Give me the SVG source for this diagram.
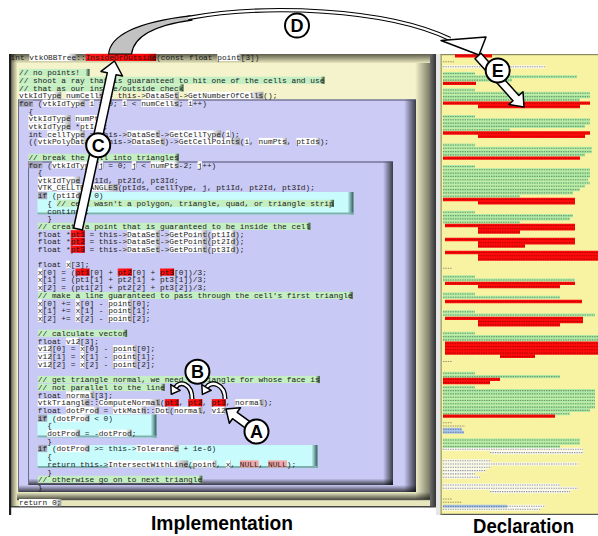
<svg xmlns="http://www.w3.org/2000/svg" width="598" height="536" viewBox="0 0 598 536">
<style>
.c{font-family:"Liberation Mono","DejaVu Sans Mono",monospace;font-size:7.833px;fill:#1c1c1c}
.w{fill:url(#gW)}
.r{fill:url(#gRed)}
.pk{fill:#f2a6a6}
.g{fill:#c4efc2}
.cap{fill:url(#gCap)}
.kw{fill:#a6a6bc}
.fa{fill:#fff;stroke:#000;stroke-width:1.5;stroke-linejoin:round}
.cc{fill:#fff;stroke:#000;stroke-width:2}
.cl{font-family:"Liberation Sans",Arial,sans-serif;font-weight:bold;font-size:18px;text-anchor:middle;fill:#000}
.lab{font-family:"Liberation Sans",Arial,sans-serif;font-weight:bold;font-size:21px;text-anchor:middle;fill:#000}
</style>
<defs>
<linearGradient id="shR" x1="0" y1="0" x2="1" y2="0"><stop offset="0" stop-color="#000" stop-opacity="0"/><stop offset="1" stop-color="#000" stop-opacity="0.72"/></linearGradient>
<linearGradient id="shRl" x1="0" y1="0" x2="1" y2="0"><stop offset="0" stop-color="#000" stop-opacity="0"/><stop offset="1" stop-color="#000" stop-opacity="0.5"/></linearGradient>
<linearGradient id="shB" x1="0" y1="0" x2="0" y2="1"><stop offset="0" stop-color="#000" stop-opacity="0"/><stop offset="1" stop-color="#000" stop-opacity="0.72"/></linearGradient>
<linearGradient id="shT" x1="0" y1="0" x2="0" y2="1"><stop offset="0" stop-color="#000" stop-opacity="0.6"/><stop offset="1" stop-color="#000" stop-opacity="0"/></linearGradient>
<linearGradient id="shL" x1="0" y1="0" x2="1" y2="0"><stop offset="0" stop-color="#000" stop-opacity="0.5"/><stop offset="1" stop-color="#000" stop-opacity="0"/></linearGradient>
<linearGradient id="gW" x1="0" y1="0" x2="1" y2="0"><stop offset="0" stop-color="#fff"/><stop offset="0.82" stop-color="#fff"/><stop offset="1" stop-color="#9c9c9c"/></linearGradient>
<linearGradient id="gRed" x1="0" y1="0" x2="1" y2="0"><stop offset="0" stop-color="#ff1a1a"/><stop offset="0.85" stop-color="#f00"/><stop offset="1" stop-color="#900"/></linearGradient>
<linearGradient id="gCap" x1="0" y1="0" x2="1" y2="0"><stop offset="0" stop-color="#c4efc2"/><stop offset="1" stop-color="#2e462e"/></linearGradient>
<linearGradient id="gCy" x1="0" y1="0" x2="1" y2="0"><stop offset="0" stop-color="#c8fcfc"/><stop offset="1" stop-color="#2c5858"/></linearGradient>
<linearGradient id="gGr" x1="0" y1="0" x2="1" y2="0"><stop offset="0" stop-color="#6e6e6e"/><stop offset="1" stop-color="#333"/></linearGradient>
<path id="decG" fill="none" d="M443 73.5H475M443 76.8H577M443 80.1H512M443 90H475M443 93.3H590M443 96.6H590M443 99.9H580M443 116.5H475M443 119.8H590M443 123.1H590M443 126.4H585M443 129.7H510M443 145H475M443 148.3H592M443 151.6H592M443 154.9H585M443 166.5H475M443 169.8H590M443 173.1H590M443 176.4H590M443 179.7H588M443 183H590M443 186.3H585M443 189.6H580M443 192.9H573M443 196.2H520M443 212.3H475M443 215.6H573M443 218.9H570M443 222.2H520M443 276.7H475M443 280H575M443 294H475M443 297.3H560M443 311.7H475M443 315H595M443 333.3H475M443 336.6H598M443 339.9H598M443 373.3H475M443 376.6H560M443 387.3H475M443 390.6H595M443 393.9H595M443 397.2H595M443 400.5H595M443 403.8H595M443 407.1H595M443 410.4H590M443 413.7H570M443 440H580M443 443.3H580M443 446.6H560"/>
<path id="decR" fill="none" d="M455 55.8H492M443 83.4H476M443 103.2H590M478 106.5H580M443 133H590M478 136.3H585M443 158.2H580M443 199.5H575M478 202.8H575M445 225.5H575M478 228.8H575M478 232.1H520M445 239.5H575M478 242.8H575M478 246.1H525M445 252.5H598M478 255.8H598M478 259.1H598M445 283.3H575M478 286.6H560M445 301.5H582M445 318.3H583M478 321.6H583M478 324.9H560M445 343.2H598M445 346.5H598M445 349.8H598M445 353.1H598M500 356.4H535M443 379.3H500M443 382.6H490M443 416.2H555"/>
<path id="decW" fill="none" d="M443 66.8H545M443 449.3H583M490 452.6H583M443 460.7H490M443 464H578M443 467.3H490M443 470.6H485M443 473.9H475M443 477.2H480M443 485H560M443 488.3H578M490 491.6H570M507 506.2H545M443 509.3H540"/>
<path id="decB" fill="none" d="M443 429.3H462M443 432.3H464M443 506.2H507"/>
<path id="decP" fill="none" d="M443 61.8H455M443 268.3H452M443 361.5H452M443 422.7H452M443 426H465M443 499H452M443 502.3H462"/>
</defs>
<rect width="598" height="536" fill="#fff"/>

<g id="implementation">
<rect x="9" y="54" width="427" height="453" fill="#e8e6bc"/>
<rect x="17" y="63" width="413" height="437" fill="#f4f3cc"/>
<rect x="9" y="54" width="421" height="9" fill="url(#shT)"/>
<rect x="11" y="54" width="6" height="453" fill="url(#shL)"/>
<rect x="415" y="63" width="15" height="437" fill="url(#shRl)"/>
<rect x="17" y="492" width="413" height="8" fill="url(#shB)"/>
<rect x="17" y="499.3" width="413" height="0.9" fill="#555"/>
<rect x="430" y="54" width="6" height="453" fill="url(#gGr)"/>
<rect x="9" y="506" width="427" height="1.5" fill="#444"/>
<rect x="9" y="54" width="2.2" height="461" fill="#1e1e1e"/>

<g id="loop-i">
<rect x="18" y="99.5" width="398" height="392.5" fill="#cbcbf6"/>
<rect x="404" y="99.5" width="12" height="392.5" fill="url(#shR)"/>
<rect x="18" y="485" width="398" height="7" fill="url(#shB)"/>
<rect x="18" y="99.5" width="398" height="1" fill="#4c4c6c"/>
<rect x="18" y="99.5" width="1" height="392.5" fill="#6c6c8c"/>
</g>
<g id="loop-j">
<rect x="28" y="161.5" width="365" height="323.5" fill="#c9c9f5"/>
<rect x="383" y="161.5" width="10" height="323.5" fill="url(#shR)"/>
<rect x="28" y="478.5" width="365" height="6.5" fill="url(#shB)"/>
<rect x="28" y="161.5" width="365" height="1" fill="#4c4c6c"/>
<rect x="28" y="161.5" width="1" height="323.5" fill="#6c6c8c"/>
</g>
<g id="if-blocks">
<rect x="37.5" y="192" width="316" height="22.5" fill="#c8fcfc"/>
<rect x="347.5" y="192" width="6" height="22.5" fill="url(#gCy)"/>
<rect x="37.5" y="212.5" width="316" height="2" fill="#7fb0b0"/>
<rect x="37.5" y="414.5" width="119" height="23" fill="#c8fcfc"/>
<rect x="150.5" y="414.5" width="6" height="23" fill="url(#gCy)"/>
<rect x="37.5" y="435.5" width="119" height="2" fill="#7fb0b0"/>
<rect x="37.5" y="445" width="280" height="23" fill="#c8fcfc"/>
<rect x="311.5" y="445" width="6" height="23" fill="url(#gCy)"/>
<rect x="37.5" y="466" width="280" height="2" fill="#7fb0b0"/>
</g>

<g id="comments">
<rect class="g" x="19" y="68.9" width="70.5" height="7.2"/><rect class="cap" x="85.5" y="68.9" width="4" height="7.2"/>
<rect class="g" x="19" y="76.7" width="305.5" height="7.2"/><rect class="cap" x="320.5" y="76.7" width="4" height="7.2"/>
<rect class="g" x="19" y="84.3" width="164.5" height="7.2"/><rect class="cap" x="179.5" y="84.3" width="4" height="7.2"/>
<rect class="g" x="28.4" y="153.7" width="150.4" height="7.2"/><rect class="cap" x="174.8" y="153.7" width="4" height="7.2"/>
<rect class="g" x="56.6" y="199.8" width="277.3" height="7.2"/><rect class="cap" x="329.9" y="199.8" width="4" height="7.2"/>
<rect class="g" x="37.8" y="222.7" width="272.6" height="7.2"/><rect class="cap" x="306.4" y="222.7" width="4" height="7.2"/>
<rect class="g" x="37.8" y="291.8" width="314.9" height="7.2"/><rect class="cap" x="348.7" y="291.8" width="4" height="7.2"/>
<rect class="g" x="37.8" y="329.7" width="89.3" height="7.2"/><rect class="cap" x="123.1" y="329.7" width="4" height="7.2"/>
<rect class="g" x="37.8" y="375.9" width="282" height="7.2"/><rect class="cap" x="315.8" y="375.9" width="4" height="7.2"/>
<rect class="g" x="37.8" y="383.8" width="126.9" height="7.2"/><rect class="cap" x="160.7" y="383.8" width="4" height="7.2"/>
<rect class="g" x="37.8" y="475.7" width="164.5" height="7.2"/><rect class="cap" x="198.3" y="475.7" width="4" height="7.2"/>
</g>

<g id="keywords">
<rect class="kw" x="19" y="99.6" width="14.1" height="7.2"/>
<rect class="kw" x="28.4" y="161.2" width="14.1" height="7.2"/>
<rect class="kw" x="37.8" y="192" width="9.4" height="7.2"/>
<rect class="kw" x="37.8" y="414.5" width="9.4" height="7.2"/>
<rect class="kw" x="37.8" y="444.9" width="9.4" height="7.2"/>
</g>

<g id="identifiers">
<rect class="w" x="29.3" y="53.8" width="47" height="7.2"/>
<rect class="w" x="217.3" y="53.8" width="23.5" height="7.2"/>
<rect class="w" x="19" y="91.8" width="42.3" height="7.2"/><rect class="w" x="66" y="91.8" width="37.6" height="7.2"/><rect class="w" x="145.9" y="91.8" width="32.9" height="7.2"/><rect class="w" x="188.2" y="91.8" width="75.2" height="7.2"/>
<rect class="w" x="42.5" y="99.6" width="42.3" height="7.2"/><rect class="w" x="89.5" y="99.6" width="4.7" height="7.2"/><rect class="w" x="122.4" y="99.6" width="4.7" height="7.2"/><rect class="w" x="141.2" y="99.6" width="37.6" height="7.2"/><rect class="w" x="188.2" y="99.6" width="4.7" height="7.2"/>
<rect class="w" x="28.4" y="115" width="42.3" height="7.2"/><rect class="w" x="75.4" y="115" width="28.2" height="7.2"/>
<rect class="w" x="28.4" y="122.6" width="42.3" height="7.2"/><rect class="w" x="80.1" y="122.6" width="23.5" height="7.2"/>
<rect class="w" x="47.2" y="130.4" width="37.6" height="7.2"/><rect class="w" x="127.1" y="130.4" width="32.9" height="7.2"/><rect class="w" x="169.4" y="130.4" width="51.7" height="7.2"/><rect class="w" x="225.8" y="130.4" width="4.7" height="7.2"/>
<rect class="w" x="37.8" y="137.9" width="51.7" height="7.2"/><rect class="w" x="131.8" y="137.9" width="32.9" height="7.2"/><rect class="w" x="178.8" y="137.9" width="61.1" height="7.2"/><rect class="w" x="244.6" y="137.9" width="4.7" height="7.2"/><rect class="w" x="258.7" y="137.9" width="28.2" height="7.2"/><rect class="w" x="296.3" y="137.9" width="23.5" height="7.2"/>
<rect class="w" x="51.9" y="161.2" width="42.3" height="7.2"/><rect class="w" x="98.9" y="161.2" width="4.7" height="7.2"/><rect class="w" x="131.8" y="161.2" width="4.7" height="7.2"/><rect class="w" x="150.6" y="161.2" width="28.2" height="7.2"/><rect class="w" x="197.6" y="161.2" width="4.7" height="7.2"/>
<rect class="w" x="37.8" y="176.6" width="42.3" height="7.2"/>
<rect class="w" x="37.8" y="184.1" width="79.9" height="7.2"/>
<rect class="w" x="56.6" y="192" width="23.5" height="7.2"/>
<rect class="w" x="127.1" y="230.2" width="32.9" height="7.2"/><rect class="w" x="169.4" y="230.2" width="37.6" height="7.2"/><rect class="w" x="211.7" y="230.2" width="23.5" height="7.2"/>
<rect class="w" x="127.1" y="237.8" width="32.9" height="7.2"/><rect class="w" x="169.4" y="237.8" width="37.6" height="7.2"/><rect class="w" x="211.7" y="237.8" width="23.5" height="7.2"/>
<rect class="w" x="127.1" y="245.6" width="32.9" height="7.2"/><rect class="w" x="169.4" y="245.6" width="37.6" height="7.2"/><rect class="w" x="211.7" y="245.6" width="23.5" height="7.2"/>
<rect class="w" x="66" y="260.7" width="4.7" height="7.2"/>
<rect class="w" x="37.8" y="268.5" width="4.7" height="7.2"/>
<rect class="w" x="37.8" y="276.1" width="4.7" height="7.2"/>
<rect class="w" x="37.8" y="283.9" width="4.7" height="7.2"/>
<rect class="w" x="37.8" y="299.3" width="4.7" height="7.2"/><rect class="w" x="75.4" y="299.3" width="4.7" height="7.2"/><rect class="w" x="108.3" y="299.3" width="23.5" height="7.2"/>
<rect class="w" x="37.8" y="306.8" width="4.7" height="7.2"/><rect class="w" x="75.4" y="306.8" width="4.7" height="7.2"/><rect class="w" x="108.3" y="306.8" width="23.5" height="7.2"/>
<rect class="w" x="37.8" y="314.7" width="4.7" height="7.2"/><rect class="w" x="75.4" y="314.7" width="4.7" height="7.2"/><rect class="w" x="108.3" y="314.7" width="23.5" height="7.2"/>
<rect class="w" x="66" y="337.6" width="14.1" height="7.2"/>
<rect class="w" x="37.8" y="345.1" width="14.1" height="7.2"/><rect class="w" x="80.1" y="345.1" width="4.7" height="7.2"/><rect class="w" x="113" y="345.1" width="23.5" height="7.2"/>
<rect class="w" x="37.8" y="353" width="14.1" height="7.2"/><rect class="w" x="80.1" y="353" width="4.7" height="7.2"/><rect class="w" x="113" y="353" width="23.5" height="7.2"/>
<rect class="w" x="37.8" y="360.8" width="14.1" height="7.2"/><rect class="w" x="80.1" y="360.8" width="4.7" height="7.2"/><rect class="w" x="113" y="360.8" width="23.5" height="7.2"/>
<rect class="w" x="66" y="391.3" width="28.2" height="7.2"/>
<rect class="w" x="37.8" y="399.1" width="51.7" height="7.2"/><rect class="w" x="98.9" y="399.1" width="61.1" height="7.2"/><rect class="w" x="235.2" y="399.1" width="28.2" height="7.2"/>
<rect class="w" x="66" y="406.7" width="32.9" height="7.2"/><rect class="w" x="113" y="406.7" width="32.9" height="7.2"/><rect class="w" x="155.3" y="406.7" width="14.1" height="7.2"/><rect class="w" x="174.1" y="406.7" width="28.2" height="7.2"/><rect class="w" x="211.7" y="406.7" width="14.1" height="7.2"/>
<rect class="w" x="56.6" y="414.5" width="32.9" height="7.2"/>
<rect class="w" x="47.2" y="429.6" width="32.9" height="7.2"/><rect class="w" x="98.9" y="429.6" width="32.9" height="7.2"/>
<rect class="w" x="56.6" y="444.9" width="32.9" height="7.2"/><rect class="w" x="136.5" y="444.9" width="42.3" height="7.2"/>
<rect class="w" x="108.3" y="460.4" width="79.9" height="7.2"/><rect class="w" x="192.9" y="460.4" width="23.5" height="7.2"/><rect class="w" x="225.8" y="460.4" width="4.7" height="7.2"/>
<rect class="w" x="19" y="499" width="42.3" height="7.2"/>
</g>

<g id="references">
<rect class="r" x="85.7" y="53.8" width="70.5" height="7.2"/>
<rect class="r" x="70.7" y="230.2" width="14.1" height="7.2"/>
<rect class="r" x="70.7" y="237.8" width="14.1" height="7.2"/>
<rect class="r" x="70.7" y="245.6" width="14.1" height="7.2"/>
<rect class="r" x="75.4" y="268.5" width="14.1" height="7.2"/>
<rect class="r" x="117.7" y="268.5" width="14.1" height="7.2"/>
<rect class="r" x="160" y="268.5" width="14.1" height="7.2"/>
<rect class="r" x="164.7" y="399.1" width="14.1" height="7.2"/>
<rect class="r" x="188.2" y="399.1" width="14.1" height="7.2"/>
<rect class="r" x="211.7" y="399.1" width="14.1" height="7.2"/>
<rect class="pk" x="239.9" y="460.4" width="18.8" height="7.2"/>
<rect class="pk" x="268.1" y="460.4" width="18.8" height="7.2"/>
</g>

<g id="code" class="c">
<text x="10.5" y="60.1">int vtkOBBTree::InsideOrOutside(const float point[3])</text>
<text x="19" y="75.2">// no points!</text>
<text x="19" y="83">// shoot a ray that is guaranteed to hit one of the cells and use</text>
<text x="19" y="90.6">// that as our inside/outside check</text>
<text x="19" y="98.1">vtkIdType numCells = this-&gt;DataSet-&gt;GetNumberOfCells();</text>
<text x="19" y="105.9">for (vtkIdType i = 0; i &lt; numCells; i++)</text>
<text x="28.4" y="113.7">{</text>
<text x="28.4" y="121.3">vtkIdType numPts;</text>
<text x="28.4" y="128.9">vtkIdType *ptIds;</text>
<text x="28.4" y="136.7">int cellType = this-&gt;DataSet-&gt;GetCellType(i);</text>
<text x="28.4" y="144.2">((vtkPolyData *)this-&gt;DataSet)-&gt;GetCellPoints(i, numPts, ptIds);</text>
<text x="28.4" y="160">// break the cell into triangles</text>
<text x="28.4" y="167.5">for (vtkIdType j = 0; j &lt; numPts-2; j++)</text>
<text x="37.8" y="175">{</text>
<text x="37.8" y="182.9">vtkIdType pt1Id, pt2Id, pt3Id;</text>
<text x="37.8" y="190.4">VTK_CELLTRIANGLES(ptIds, cellType, j, pt1Id, pt2Id, pt3Id);</text>
<text x="37.8" y="198.3">if (pt1Id &lt; 0)</text>
<text x="47.2" y="206.1">{ // cell wasn't a polygon, triangle, quad, or triangle strip</text>
<text x="47.2" y="213.7">continue;</text>
<text x="47.2" y="221.2">}</text>
<text x="37.8" y="229">// create a point that is guaranteed to be inside the cell</text>
<text x="37.8" y="236.5">float *pt1 = this-&gt;DataSet-&gt;GetPoint(pt1Id);</text>
<text x="37.8" y="244.1">float *pt2 = this-&gt;DataSet-&gt;GetPoint(pt2Id);</text>
<text x="37.8" y="251.9">float *pt3 = this-&gt;DataSet-&gt;GetPoint(pt3Id);</text>
<text x="37.8" y="267">float x[3];</text>
<text x="37.8" y="274.8">x[0] = (pt1[0] + pt2[0] + pt3[0])/3;</text>
<text x="37.8" y="282.4">x[1] = (pt1[1] + pt2[1] + pt3[1])/3;</text>
<text x="37.8" y="290.2">x[2] = (pt1[2] + pt2[2] + pt3[2])/3;</text>
<text x="37.8" y="298.1">// make a line guaranteed to pass through the cell's first triangle</text>
<text x="37.8" y="305.6">x[0] += x[0] - point[0];</text>
<text x="37.8" y="313.1">x[1] += x[1] - point[1];</text>
<text x="37.8" y="321">x[2] += x[2] - point[2];</text>
<text x="37.8" y="336">// calculate vector</text>
<text x="37.8" y="343.9">float v12[3];</text>
<text x="37.8" y="351.4">v12[0] = x[0] - point[0];</text>
<text x="37.8" y="359.3">v12[1] = x[1] - point[1];</text>
<text x="37.8" y="367.1">v12[2] = x[2] - point[2];</text>
<text x="37.8" y="382.2">// get triangle normal, we need a triangle for whose face is</text>
<text x="37.8" y="390.1">// not parallel to the line</text>
<text x="37.8" y="397.6">float normal[3];</text>
<text x="37.8" y="405.4">vtkTriangle::ComputeNormal(pt1, pt2, pt3, normal);</text>
<text x="37.8" y="413">float dotProd = vtkMath::Dot(normal, v12);</text>
<text x="37.8" y="420.8">if (dotProd &lt; 0)</text>
<text x="47.2" y="428.3">{</text>
<text x="47.2" y="435.9">dotProd = -dotProd;</text>
<text x="47.2" y="443.7">}</text>
<text x="37.8" y="451.2">if (dotProd &gt;= this-&gt;Tolerance + 1e-6)</text>
<text x="47.2" y="459.1">{</text>
<text x="47.2" y="466.7">return this-&gt;IntersectWithLine(point, x, NULL, NULL);</text>
<text x="47.2" y="474.5">}</text>
<text x="37.8" y="482">// otherwise go on to next triangle</text>
<text x="37.8" y="489.9">}</text>
<text x="19" y="505.3">return 0;</text>
</g>
</g>

<g id="declaration">
<rect x="436" y="54" width="4.5" height="461" fill="#e6e6e6"/>
<rect x="440.5" y="54" width="158" height="461" fill="#f7f3a2"/>
<rect x="440.5" y="54" width="158" height="1.2" fill="#8a8a60"/>
<rect x="440.5" y="513.8" width="158" height="1.2" fill="#555"/>
<rect x="440.5" y="54" width="1.2" height="461" fill="#8f8f66"/>
<use href="#decG" stroke="#aeeaa6" stroke-width="3.1"/>
<use href="#decR" stroke="#ff0a0a" stroke-width="3.3"/>
<use href="#decW" stroke="#fbfbf4" stroke-width="3.1"/>
<use href="#decB" stroke="#a9c6ee" stroke-width="3.1"/>
<g stroke-width="1.1" stroke-dasharray="1.4 1" fill="none">
<use href="#decG" stroke="#1e3a1e" stroke-opacity="0.45"/>
<use href="#decR" stroke="#4a0000" stroke-opacity="0.45"/>
<use href="#decW" stroke="#333" stroke-opacity="0.5"/>
<use href="#decB" stroke="#223" stroke-opacity="0.5"/>
<use href="#decP" stroke="#333" stroke-opacity="0.5"/>
</g>
</g>

<g id="connectors">
<path d="M108.7 54 C110 36 136 22 190 15.8 L192 20.2 C160 24.5 134 34 131.6 54 Z" fill="#c2c2c2" stroke="#000" stroke-width="1.2" stroke-linejoin="round"/>
<path d="M188 18 C265 4 385 8 450 39" fill="none" stroke="#000" stroke-width="4.4"/>
<path d="M188 18 C265 4 385 8 450 39" fill="none" stroke="#fff" stroke-width="2.2"/>
<polygon class="fa" points="441,40.5 486,37 479,55"/>
<polygon class="fa" points="481,53.3 518.9,95.4 523,91.7 524,107 508.9,104.5 513,100.8 475,58.7"/>
<polygon class="fa" points="73.6,228 107.3,72.7 101,71.4 114.5,61 122.5,76 116.1,74.7 82.4,230"/>
<polygon class="fa" points="258.4,427.8 237.2,412.3 240.5,407.8 226,409 229.3,423.2 232.5,418.7 253.6,434.2"/>
<path d="M192 399 C192 384 180 380 175.5 387.5" fill="none" stroke="#000" stroke-width="5"/>
<path d="M192 399 C192 384 180 380 175.5 387.5" fill="none" stroke="#fff" stroke-width="2.4"/>
<polygon class="fa" points="180.2,390.4 171.3,394.3 170.8,384.6"/>
<path d="M225 399 C225 384 211 380 206.5 387.5" fill="none" stroke="#000" stroke-width="5"/>
<path d="M225 399 C225 384 211 380 206.5 387.5" fill="none" stroke="#fff" stroke-width="2.4"/>
<polygon class="fa" points="211.2,390.3 202.4,394.4 201.8,384.7"/>
</g>

<g id="callout-A"><circle class="cc" cx="256.5" cy="431.5" r="12"/><text class="cl" x="256.5" y="437.9">A</text></g>
<g id="callout-B"><circle class="cc" cx="197.4" cy="371.8" r="12"/><text class="cl" x="197.4" y="378.2">B</text></g>
<g id="callout-C"><circle class="cc" cx="98.2" cy="145.3" r="12"/><text class="cl" x="98.2" y="151.7">C</text></g>
<g id="callout-D"><circle class="cc" cx="297" cy="25.6" r="12"/><text class="cl" x="297" y="32">D</text></g>
<g id="callout-E"><circle class="cc" cx="497.7" cy="70.5" r="12"/><text class="cl" x="497.7" y="76.9">E</text></g>

<g id="labels">
<text class="lab" x="222" y="530" textLength="142" lengthAdjust="spacingAndGlyphs">Implementation</text>
<text class="lab" x="523.5" y="532.5" textLength="101" lengthAdjust="spacingAndGlyphs">Declaration</text>
</g>
</svg>
